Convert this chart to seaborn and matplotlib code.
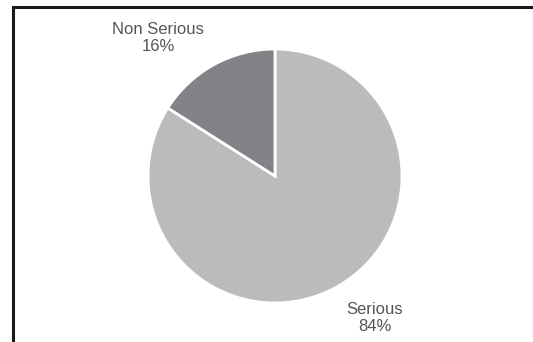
import matplotlib
matplotlib.use("Agg")
import matplotlib.pyplot as plt
import seaborn as sns
from matplotlib.patches import Rectangle

categories = ["Serious", "Non Serious"]
values = [84, 16]
labels = ["Serious\n84%", "Non Serious\n16%"]

sns.set_theme(style="white")
plt.rcParams['font.family'] = ['Liberation Sans', 'DejaVu Sans']

colors = sns.color_palette(["#b9bbbd", "#818386"])

W, H = 533, 342
fig = plt.figure(figsize=(W / 100, H / 100), dpi=100)
fig.patch.set_facecolor("white")
ax = fig.add_axes([0, 0, 1, 1])

cx, cy, r = 275, H - 176, 127
ax.pie(values, colors=colors, startangle=90, counterclock=False,
       center=(cx, cy), radius=r, frame=True,
       wedgeprops=dict(edgecolor="white", linewidth=2))
ax.set_xlim(0, W)
ax.set_ylim(0, H)
ax.set_aspect("equal")
ax.axis("off")

txt_color = "#555555"
ax.text(375, H - 318, labels[0], ha="center", va="center", fontsize=12,
        color=txt_color, linespacing=1.2)
ax.text(158, H - 38, labels[1], ha="center", va="center", fontsize=12,
        color=txt_color, linespacing=1.2)

# outer frame (right side runs off the image edge)
fig.add_artist(Rectangle((12.5 / W, -0.05), (W + 10) / W, (H - 6.5) / H + 0.05,
                         transform=fig.transFigure, fill=False,
                         edgecolor="#1a1a1a", linewidth=2.2))

fig.savefig("out.png", dpi=100, facecolor="white")
